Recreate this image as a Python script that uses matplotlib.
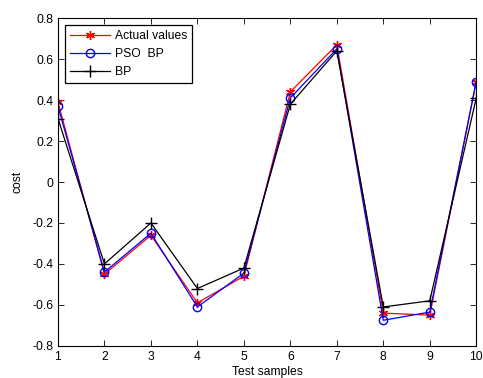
import matplotlib
matplotlib.use('Agg')
import matplotlib.pyplot as plt
import numpy as np

plt.rcParams['font.family'] = ['Liberation Sans', 'DejaVu Sans']

# Test sample index and the three series
samples = [1, 2, 3, 4, 5, 6, 7, 8, 9, 10]
actual = [0.39, -0.45, -0.26, -0.59, -0.46, 0.44, 0.67, -0.64, -0.65, 0.49]
pso_bp = [0.37, -0.44, -0.25, -0.61, -0.445, 0.41, 0.65, -0.675, -0.635, 0.49]
bp = [0.31, -0.40, -0.20, -0.52, -0.42, 0.38, 0.64, -0.61, -0.58, 0.41]

fig = plt.figure(figsize=(4.83, 3.78), dpi=100)
ax = fig.add_axes([0.120, 0.085, 0.866, 0.867])

ax.plot(samples, actual, color='red', marker=(6, 2, 0), markersize=6.5, markeredgewidth=1.0,
        linewidth=0.9, label='Actual values')
ax.plot(samples, pso_bp, color='blue', marker='o', markersize=6, markerfacecolor='none',
        linewidth=0.9, label='PSO  BP')
ax.plot(samples, bp, color='black', marker='+', markersize=8, linewidth=0.9, label='BP')

ax.set_xlim(1, 10)
ax.set_ylim(-0.8, 0.8)
ax.set_xticks(np.arange(1, 11, 1))
ax.set_yticks(np.arange(-0.8, 0.81, 0.2))
ax.set_yticklabels(['-0.8', '-0.6', '-0.4', '-0.2', '0', '0.2', '0.4', '0.6', '0.8'])
ax.tick_params(direction='in', top=True, right=True, labelsize=8.7, length=4, width=0.6)
for s in ax.spines.values():
    s.set_linewidth(0.8)

ax.set_xlabel('Test samples', fontsize=8.7, labelpad=2)
ax.set_ylabel('cost', fontsize=8.7, labelpad=6)

leg = ax.legend(loc='upper left', fontsize=8.7, fancybox=False, edgecolor='black',
                framealpha=1, borderaxespad=0.6, handlelength=3.3, labelspacing=0.5,
                handletextpad=0.4)
leg.get_frame().set_linewidth(0.9)

fig.savefig('out.png', dpi=100)
